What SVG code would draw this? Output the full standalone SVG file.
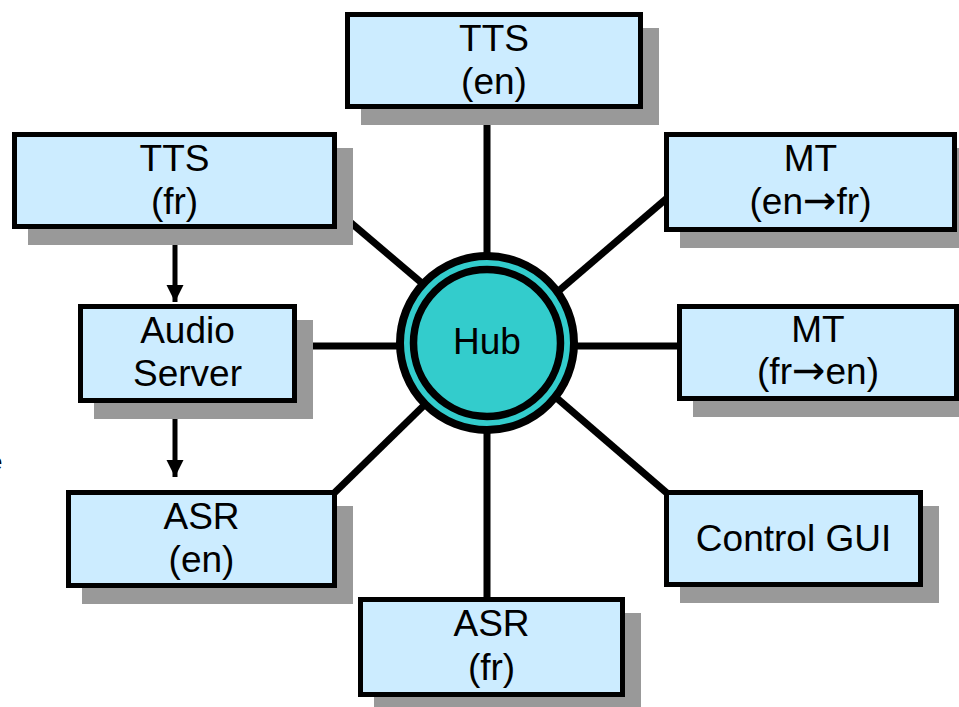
<svg xmlns="http://www.w3.org/2000/svg" width="959" height="707" viewBox="0 0 959 707">
<style>
.shadow{fill:#999999}
.box{fill:#CCECFF;stroke:#000;stroke-width:5}
.lbl{font-family:"Liberation Sans",Arial,sans-serif;font-size:37px;fill:#000;text-anchor:middle}
.ar{font-family:"DejaVu Sans",sans-serif;font-size:40px}
.conn{stroke:#000;stroke-width:7;fill:none}
.arr{stroke:#000;stroke-width:5;fill:none}
</style>
<defs>
<marker id="ah" markerUnits="userSpaceOnUse" markerWidth="18" markerHeight="20" refX="17" refY="8.5" orient="auto">
<path d="M0,0 L17,8.5 L0,17 z" fill="#000"/>
</marker>
</defs>
<rect width="959" height="707" fill="#fff"/>
<text x="-11" y="470" class="lbl" style="font-size:24px;text-anchor:start">e</text>
<g id="connectors">
<line class="conn" x1="487" y1="100" x2="487" y2="300"/>
<line class="conn" x1="330" y1="205" x2="450" y2="307"/>
<line class="conn" x1="520" y1="324" x2="680" y2="187"/>
<line class="conn" x1="290" y1="346" x2="420" y2="346"/>
<line class="conn" x1="550" y1="346" x2="685" y2="346"/>
<line class="conn" x1="325" y1="502" x2="450" y2="380"/>
<line class="conn" x1="530" y1="375" x2="675" y2="500"/>
<line class="conn" x1="487" y1="390" x2="487" y2="605"/>
<line class="arr" x1="175" y1="238" x2="175" y2="302" marker-end="url(#ah)"/>
<line class="arr" x1="175" y1="415" x2="175" y2="477" marker-end="url(#ah)"/>
</g>
<g id="tts-en">
<rect class="shadow" x="361" y="28" width="298" height="97"/>
<rect class="box" x="347.5" y="14.5" width="293" height="92"/>
<text class="lbl" x="494" y="51">TTS</text>
<text class="lbl" x="494" y="94">(en)</text>
</g>
<g id="tts-fr">
<rect class="shadow" x="28" y="148" width="325" height="97"/>
<rect class="box" x="14.5" y="134.5" width="320" height="92"/>
<text class="lbl" x="174.5" y="171">TTS</text>
<text class="lbl" x="174.5" y="214">(fr)</text>
</g>
<g id="mt-en-fr">
<rect class="shadow" x="680" y="148" width="293" height="100"/>
<rect class="box" x="666.5" y="134.5" width="288" height="95"/>
<text class="lbl" x="810.5" y="171">MT</text>
<text class="lbl" x="810.5" y="214">(en<tspan class="ar">→</tspan>fr)</text>
</g>
<g id="audio-server">
<rect class="shadow" x="94" y="320" width="219" height="99"/>
<rect class="box" x="80.5" y="306.5" width="214" height="94"/>
<text class="lbl" x="187.5" y="343">Audio</text>
<text class="lbl" x="187.5" y="386">Server</text>
</g>
<g id="mt-fr-en">
<rect class="shadow" x="693" y="320" width="283" height="97"/>
<rect class="box" x="679.5" y="306.5" width="277" height="92"/>
<text class="lbl" x="818" y="342">MT</text>
<text class="lbl" x="818" y="384">(fr<tspan class="ar">→</tspan>en)</text>
</g>
<g id="asr-en">
<rect class="shadow" x="82" y="506" width="271" height="98"/>
<rect class="box" x="68.5" y="492.5" width="266" height="93"/>
<text class="lbl" x="201.5" y="529">ASR</text>
<text class="lbl" x="201.5" y="572">(en)</text>
</g>
<g id="control-gui">
<rect class="shadow" x="680" y="506" width="259" height="97"/>
<rect class="box" x="666.5" y="492.5" width="254" height="92"/>
<text class="lbl" x="793.5" y="551">Control GUI</text>
</g>
<g id="asr-fr">
<rect class="shadow" x="374" y="613" width="267" height="100"/>
<rect class="box" x="360.5" y="599.5" width="262" height="95"/>
<text class="lbl" x="491.5" y="636">ASR</text>
<text class="lbl" x="491.5" y="680">(fr)</text>
</g>
<g id="hub">
<circle cx="487" cy="343" r="87" fill="#33CCCC" stroke="#000" stroke-width="8"/>
<circle cx="487" cy="343" r="73.5" fill="#33CCCC" stroke="#000" stroke-width="7.5"/>
<text class="lbl" x="487" y="354">Hub</text>
</g>
</svg>
